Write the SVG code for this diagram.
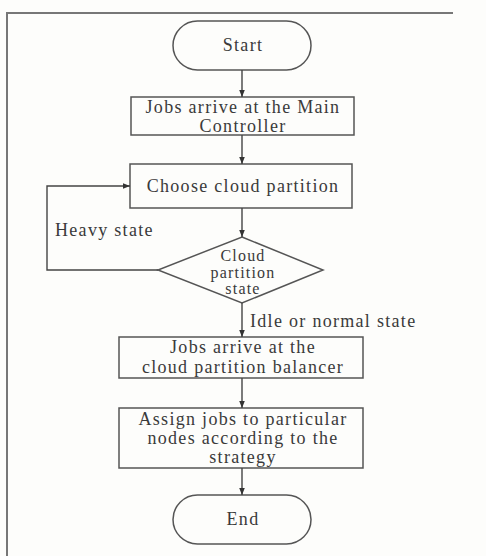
<svg xmlns="http://www.w3.org/2000/svg" width="486" height="556" viewBox="0 0 486 556">
<style>
.s{fill:none;stroke:#555;stroke-width:1.5}
.t{font-family:"Liberation Serif","Times New Roman",serif;font-size:18px;fill:#3a3a3a;text-anchor:middle;letter-spacing:1.3px}
.d{font-size:16px;letter-spacing:1.2px}
.l{text-anchor:start}
.c{fill:none;stroke:#444;stroke-width:1.4}
</style>
<defs>
<marker id="a" viewBox="0 0 10 10" refX="10" refY="5" markerWidth="7" markerHeight="7" orient="auto" markerUnits="userSpaceOnUse">
<path d="M0,1 L10,5 L0,9 Z" fill="#333"/>
</marker>
</defs>
<rect width="486" height="556" fill="#fdfdfb"/>
<g id="frame"><path d="M7,556 V13 H453" fill="none" stroke="#777" stroke-width="2"/></g>
<g id="start"><rect class="s" x="173" y="21" width="138" height="49" rx="24.5"/><text class="t" x="243" y="51">Start</text></g>
<g id="box1"><rect class="s" x="131" y="97" width="223" height="38"/><text class="t" x="243" y="113">Jobs arrive at the Main</text><text class="t" x="243" y="132">Controller</text></g>
<g id="box2"><rect class="s" x="130" y="164" width="222" height="44"/><text class="t" x="243" y="192">Choose cloud partition</text></g>
<g id="decision"><path class="s" d="M242,237 L323,270 L242,303 L158,270 Z"/><text class="t d" x="243" y="261">Cloud</text><text class="t d" x="243" y="277.5">partition</text><text class="t d" x="243" y="294">state</text></g>
<g id="box3"><rect class="s" x="119" y="337" width="244" height="41"/><text class="t" x="243" y="353">Jobs arrive at the</text><text class="t" x="243" y="373">cloud partition balancer</text></g>
<g id="box4"><rect class="s" x="119" y="408" width="244" height="60"/><text class="t" x="243" y="425">Assign jobs to particular</text><text class="t" x="243" y="444">nodes according to the</text><text class="t" x="243" y="463">strategy</text></g>
<g id="end"><rect class="s" x="173" y="495" width="138" height="49" rx="24.5"/><text class="t" x="243" y="525">End</text></g>
<g id="connectors">
<path class="c" d="M242,70 V97" marker-end="url(#a)"/>
<path class="c" d="M242,135 V164" marker-end="url(#a)"/>
<path class="c" d="M242,208 V237" marker-end="url(#a)"/>
<path class="c" d="M242,303 V337" marker-end="url(#a)"/>
<path class="c" d="M242,378 V408" marker-end="url(#a)"/>
<path class="c" d="M242,468 V495" marker-end="url(#a)"/>
<path class="c" d="M158,270 H47 V186 H130" marker-end="url(#a)"/>
<text class="t l" x="55" y="236">Heavy state</text>
<text class="t l" x="250" y="327">Idle or normal state</text>
</g>
</svg>
